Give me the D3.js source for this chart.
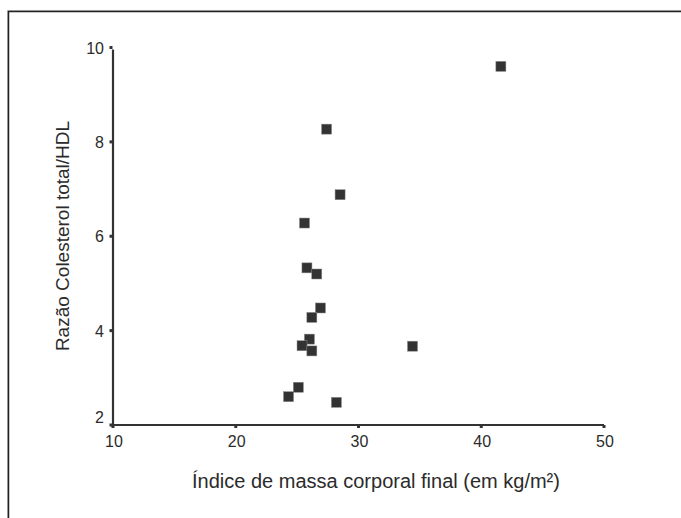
<!DOCTYPE html>
<html>
<head>
<meta charset="utf-8">
<script src="https://cdn.jsdelivr.net/npm/d3@7"></script>
<style>
html,body{margin:0;padding:0;background:#fff;}
svg{display:block;}
text{font-family:"Liberation Sans",Arial,sans-serif;fill:#2b2b2b;}
</style>
</head>
<body>
<svg id="chart" width="681" height="518"></svg>
<script>
const imc = [41.6, 27.4, 28.5, 25.6, 25.8, 26.6, 26.9, 26.2, 26.0, 25.4, 26.2, 34.4, 25.1, 24.3, 28.2];
const razao = [9.6, 8.27, 6.88, 6.28, 5.33, 5.2, 4.48, 4.28, 3.82, 3.68, 3.57, 3.67, 2.8, 2.6, 2.48];
const xTicks = [10, 20, 30, 40, 50];
const yTicks = [2, 4, 6, 8, 10];
const xLabel = "Índice de massa corporal final (em kg/m²)";
const yLabel = "Razão Colesterol total/HDL";

const svg = d3.select("#chart");

// outer frame
svg.append("path").attr("d","M7.5,518 V10.5 H681").attr("fill","none").attr("stroke","#bbb").attr("stroke-width",1);
svg.append("path").attr("d","M8.5,518 V11.5 H681").attr("fill","none").attr("stroke","#222").attr("stroke-width",1.5);

const x = d3.scaleLinear().domain([10, 50]).range([113, 604]);
const y = d3.scaleLinear().domain([2, 10]).range([425, 47.5]);

const axisColor = "#333";
// x axis
const gx = svg.append("g").attr("transform","translate(0,425)");
gx.append("line").attr("x1",x(10)).attr("x2",x(50)).attr("stroke",axisColor).attr("stroke-width",2.2);
gx.selectAll("rect.t").data(xTicks).enter().append("rect")
  .attr("x",d=>x(d)-1.5).attr("y",0).attr("width",3).attr("height",3).attr("fill",axisColor);
gx.selectAll("text").data(xTicks).enter().append("text")
  .attr("x",d=>x(d)+1).attr("y",22).attr("text-anchor","middle").attr("font-size",16).text(d=>d);

// y axis
const gy = svg.append("g").attr("transform","translate(113,0)");
gy.append("line").attr("y1",y(10)+2).attr("y2",y(2)).attr("stroke",axisColor).attr("stroke-width",2.2);
gy.selectAll("rect.t").data(yTicks).enter().append("rect")
  .attr("x",-3.5).attr("y",d=>y(d)-1.5).attr("width",3).attr("height",3).attr("fill",axisColor);
gy.selectAll("text").data(yTicks).enter().append("text")
  .attr("x",-9).attr("y",d=>y(d) + (d===2 ? -2 : 6)).attr("text-anchor","end").attr("font-size",16).text(d=>d);

// axis titles
svg.append("text").attr("x",376).attr("y",488).attr("text-anchor","middle").attr("font-size",20).text(xLabel);
svg.append("text").attr("transform","translate(69,236) rotate(-90)").attr("text-anchor","middle").attr("font-size",19).text(yLabel);

// points
const pts = imc.map((v,i)=>({x:v,y:razao[i]}));
svg.append("g").selectAll("rect").data(pts).enter().append("rect")
  .attr("x",d=>x(d.x)-5).attr("y",d=>y(d.y)-5).attr("width",10).attr("height",10)
  .attr("fill","#333").attr("stroke","#888").attr("stroke-width",0.5);
</script>
</body>
</html>
